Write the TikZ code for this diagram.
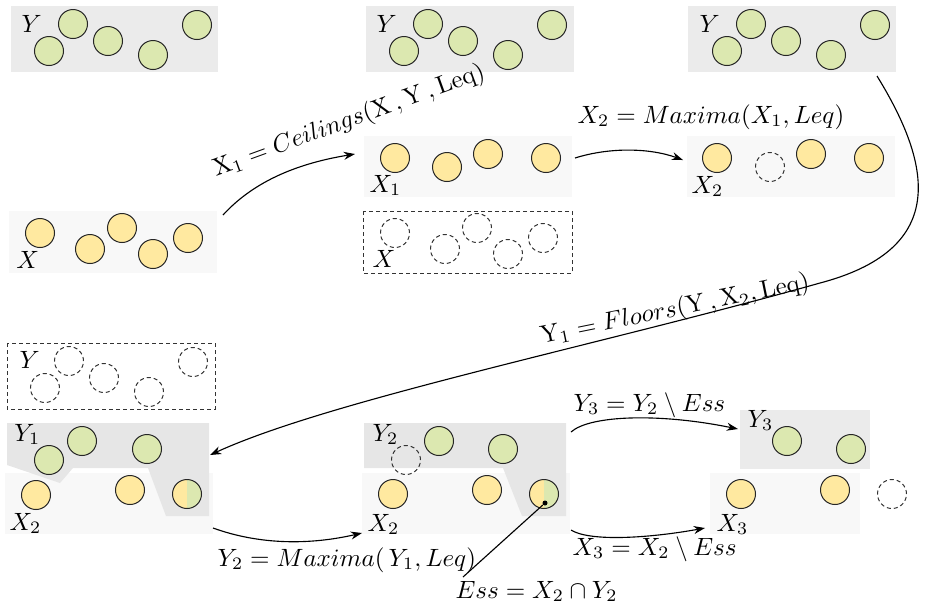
\documentclass[tikz,border=0pt]{standalone}
\usetikzlibrary{arrows.meta,calc}
\definecolor{grn}{HTML}{DCE8B0}
\definecolor{yelw}{HTML}{FFE9A0}
\definecolor{boxY}{HTML}{EBEBEB}
\definecolor{boxP}{HTML}{E6E6E6}
\definecolor{boxX}{HTML}{F8F8F8}
\tikzset{
  elem/.style={circle,draw=black!85,minimum size=11.6pt,inner sep=0pt,line width=0.4pt},
  gel/.style={elem,fill=grn},
  yel/.style={elem,fill=yelw},
  dashc/.style={elem,draw=black!80,dash pattern=on 1.6pt off 1.2pt},
  dashbox/.style={draw=black!80,dash pattern=on 1.6pt off 1.2pt,line width=0.4pt},
  setlbl/.style={inner sep=0pt,anchor=base west},
  oplbl/.style={inner sep=0pt},
  arr/.style={-{Stealth[length=4.5pt,width=3.2pt]},line width=0.45pt},
}
\begin{document}
\begin{tikzpicture}[x=0.4pt,y=-0.4pt]
\useasboundingbox (0,0) rectangle (926,602);
% ---------- top row: Y boxes
\fill[boxY] (11,6) rectangle (218,72);
\fill[boxY] (366,6) rectangle (574,72);
\fill[boxY] (688,6) rectangle (896,72);
\foreach \o/\n in {0/a,355/b,678/c}{
  \node[gel] (\n1) at (73+\o,24) {};
  \node[gel] (\n2) at (49+\o,51) {};
  \node[gel] (\n3) at (108+\o,41) {};
  \node[gel] (\n4) at (153+\o,55) {};
  \node[gel] (\n5) at (197+\o,25) {};
}
\node[setlbl] (ylA) at (21,32) {$Y$};
\node[setlbl] (ylB) at (376,32) {$Y$};
\node[setlbl] (ylC) at (699,32) {$Y$};
% ---------- X box
\fill[boxX] (9,211) rectangle (217,273);
\node[yel] (x1) at (40,233) {};
\node[yel] (x2) at (90,249) {};
\node[yel] (x3) at (122,228) {};
\node[yel] (x4) at (153,254) {};
\node[yel] (x5) at (188,238) {};
\node[setlbl] (xl) at (16,268) {$X$};
% ---------- X1 box
\fill[boxX] (364,136) rectangle (572,197);
\node[yel] (xa1) at (395,158) {};
\node[yel] (xa2) at (447,167) {};
\node[yel] (xa3) at (488,154) {};
\node[yel] (xa4) at (546,158) {};
\node[setlbl] (x1l) at (369,192) {$X_1$};
% ---------- dashed X box
\draw[dashbox] (363,211) rectangle (572,273);
\node[dashc] (dx1) at (395,233) {};
\node[dashc] (dx2) at (445,249) {};
\node[dashc] (dx3) at (477,228) {};
\node[dashc] (dx4) at (508,254) {};
\node[dashc] (dx5) at (543,238) {};
\node[setlbl] (dxl) at (372,267) {$X$};
% ---------- X2 box (top right)
\fill[boxX] (687,136) rectangle (895,197);
\node[yel] (xb1) at (717,158) {};
\node[dashc] (xb2) at (770,167) {};
\node[yel] (xb3) at (811,154) {};
\node[yel] (xb4) at (869,158) {};
\node[setlbl] (x2l) at (691,193) {$X_2$};
% ---------- dashed Y box (bottom left)
\draw[dashbox] (7,343) rectangle (215,409);
\node[dashc] (dy1) at (69,361) {};
\node[dashc] (dy2) at (45,388) {};
\node[dashc] (dy3) at (104,378) {};
\node[dashc] (dy4) at (149,392) {};
\node[dashc] (dy5) at (193,362) {};
\node[setlbl] (dyl) at (19,368) {$Y$};
% ---------- Y1 / X2 (bottom left)
\fill[boxX] (5,473) rectangle (213,534);
\fill[boxP] (7,423) -- (209,423) -- (209,516) -- (166,516) -- (148,468) -- (73,468) -- (60,483) -- (7,465) -- cycle;
\node[gel] (ya1) at (82,441) {};
\node[gel] (ya2) at (49,460) {};
\node[gel] (ya3) at (147,449) {};
\node[yel] (ya4) at (36,495) {};
\node[yel] (ya5) at (130,490) {};
\begin{scope}
  \clip (167,470) rectangle (187,518);
  \fill[yelw] (187,494) circle (14.5);
\end{scope}
\begin{scope}
  \clip (187,470) rectangle (207,518);
  \fill[grn] (187,494) circle (14.5);
\end{scope}
\node[elem] (ya6) at (187,494) {};
\node[setlbl] (y1l) at (14,441) {$Y_1$};
\node[setlbl] (x2bl) at (9,530) {$X_2$};
% ---------- Y2 / X2 (bottom middle)
\fill[boxX] (362,473) rectangle (570,534);
\fill[boxP] (364,423) -- (566,423) -- (566,516) -- (522,516) -- (503,468) -- (364,468) -- cycle;
\node[gel] (yb1) at (439,441) {};
\node[gel] (yb3) at (503,449) {};
\node[dashc] (yb2) at (406,460) {};
\node[yel] (yb4) at (393,494) {};
\node[yel] (yb5) at (487,490) {};
\begin{scope}
  \clip (524,470) rectangle (544,518);
  \fill[yelw] (544,494) circle (14.5);
\end{scope}
\begin{scope}
  \clip (544,470) rectangle (564,518);
  \fill[grn] (544,494) circle (14.5);
\end{scope}
\node[elem] (yb6) at (544,494) {};
\node[circle,fill=black,inner sep=0pt,minimum size=2pt] (essdot) at (545,503) {};
\node[setlbl] (y2l) at (372,441) {$Y_2$};
\node[setlbl] (x2cl) at (367,531) {$X_2$};
% ---------- Y3 / X3 (bottom right)
\fill[boxY] (740,410) rectangle (870,469);
\node[gel] (yc1) at (787,441) {};
\node[gel] (yc2) at (851,449) {};
\node[setlbl] (y3l) at (747,427) {$Y_3$};
\fill[boxX] (710,473) rectangle (860,534);
\node[yel] (xc1) at (741,494) {};
\node[yel] (xc2) at (835,490) {};
\node[dashc] (xc3) at (892,494) {};
\node[setlbl] (x3l) at (716,531) {$X_3$};
% ---------- connector end points
\coordinate (s1) at (223,215); \coordinate (e1) at (355,154);
\coordinate (s2) at (575,158); \coordinate (e2) at (683,160);
\coordinate (s3) at (877,76);  \coordinate (m3) at (820,283); \coordinate (e3) at (210,455);
\coordinate (s4) at (213,528); \coordinate (e4) at (362,533);
\coordinate (s5) at (571,432); \coordinate (e5) at (738,429);
\coordinate (s6) at (571,530); \coordinate (e6) at (705,528);
\coordinate (essend) at (463,577);
% ---------- connectors
\draw[arr] (s1) .. controls (255,180) and (300,163) .. (e1);
\draw[arr] (s2) .. controls (610,147) and (650,148) .. (e2);
\draw[arr] (s3) .. controls (935,170) and (945,250) .. (m3) .. controls (600,345) and (330,400) .. (e3);
\draw[arr] (s4) .. controls (260,545) and (310,545) .. (e4);
\draw[arr] (s5) .. controls (590,415) and (660,413) .. (e5);
\draw[arr] (s6) .. controls (590,542) and (650,538) .. (e6);
\draw[line width=0.45pt] (essdot) -- (essend);
% ---------- operation labels
\node[oplbl,rotate=20] (lceil) at (349,121) {$\mathrm{X}_1 = Ceilings(\mathrm{X}\,, \mathrm{Y}\,, \mathrm{Leq})$};
\node[setlbl] (lmax1) at (577,123) {$X_2 = Maxima(X_1, Leq)$};
\node[oplbl,rotate=11.5] (lfloor) at (675,310) {$\mathrm{Y}_1 = Floors(\mathrm{Y}\,, \mathrm{X}_2, \mathrm{Leq})$};
\node[setlbl] (lmax2) at (217,566) {$Y_2 = Maxima(\,Y_1, Leq)$};
\node[setlbl] (ly3) at (573,411) {$Y_3 = Y_2 \setminus Ess$};
\node[setlbl] (lx3) at (572,555) {$X_3 = X_2 \setminus Ess$};
\node[setlbl] (less) at (455,598) {$Ess = X_2 \cap Y_2$};
\end{tikzpicture}
\end{document}
